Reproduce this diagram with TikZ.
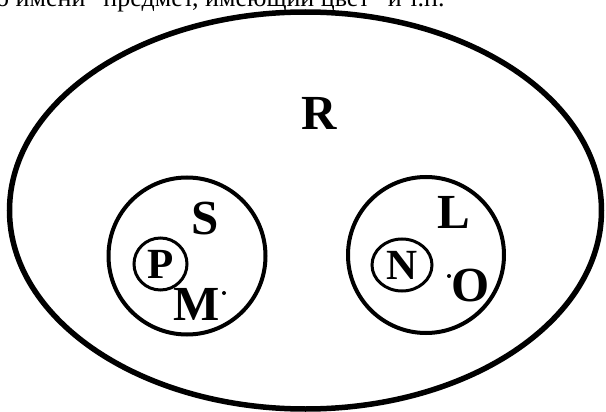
\documentclass[tikz,border=0pt]{standalone}
\usepackage{fontspec}
\setmainfont{Liberation Serif}
\usetikzlibrary{shapes.geometric}
\tikzset{
  setline/.style={draw, line width=5.5pt, inner sep=0pt},
  subset/.style={draw, circle, line width=4pt, inner sep=0pt},
  elem/.style={draw, ellipse, line width=3pt, inner sep=0pt},
  lab/.style={font=\bfseries\fontsize{49}{49}\selectfont, inner sep=0pt},
  smalllab/.style={font=\bfseries\fontsize{43}{43}\selectfont, inner sep=0pt},
  pt/.style={circle, fill, inner sep=0pt, minimum size=4pt}
}
\begin{document}
\begin{tikzpicture}[x=1pt,y=-1pt]
\useasboundingbox (0,0) rectangle (606,412);
\clip (0,0) rectangle (606,412);
\node[anchor=base west, inner sep=0pt, font=\fontsize{26}{26}\selectfont] (head) at (-4,7) {о имени "предмет, имеющий цвет" и т.п.};
\node[setline, ellipse, minimum width=592pt, minimum height=397pt] (Rset) at (305.5,210.5) {};
\node[lab] (R) at (319,113) {R};
\node[subset, minimum size=157pt] (Sset) at (187,256) {};
\node[subset, minimum size=156pt] (Lset) at (426,255) {};
\node[lab] (S) at (205,219) {S};
\node[elem, minimum width=53pt, minimum height=52pt] (Pc) at (160.5,264) {};
\node[smalllab] (P) at (160.5,264) {P};
\node[lab] (M) at (197,304) {M};
\node[pt] (mdot) at (224,293) {};
\node[lab] (L) at (454,212) {L};
\node[elem, minimum width=60pt, minimum height=52pt] (Nc) at (402,265) {};
\node[smalllab] (N) at (402,265) {N};
\node[lab] (O) at (471,286) {O};
\node[pt] (odot) at (449,276) {};
\end{tikzpicture}
\end{document}
